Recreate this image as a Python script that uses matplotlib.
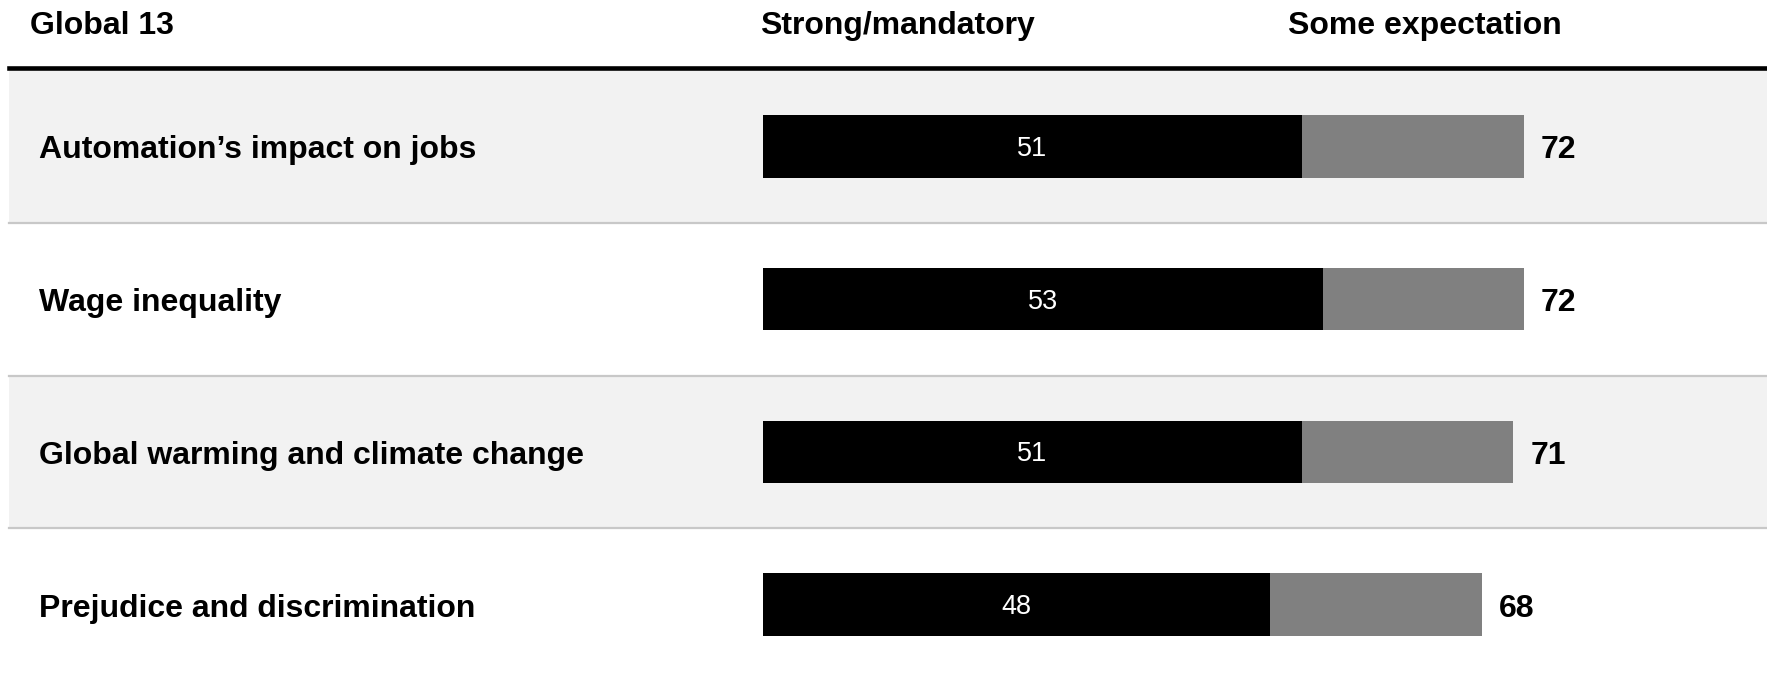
import matplotlib
matplotlib.use("Agg")
import matplotlib.pyplot as plt
from matplotlib.lines import Line2D

plt.rcParams['font.family'] = ['Liberation Sans', 'DejaVu Sans']

# ---- data ----
title = "Global 13"
series_names = ["Strong/mandatory", "Some expectation"]
categories = ["Automation\u2019s impact on jobs", "Wage inequality",
              "Global warming and climate change", "Prejudice and discrimination"]
strong = [51, 53, 51, 48]
total = [72, 72, 71, 68]

# ---- layout ----
W, H = 1767, 681
dpi = 100
fig = plt.figure(figsize=(W / dpi, H / dpi), dpi=dpi)
fig.patch.set_facecolor("white")

top_px = 70
ax = fig.add_axes([0, 0, 1, (H - top_px) / H])
x0_px, ppu = 763, 10.57
ax.set_xlim(-x0_px / ppu, (W - x0_px) / ppu)
n = len(categories)
ax.set_ylim(n - 0.5, -0.5)
ax.axis("off")
row_px = (H - top_px) / n

left_frac = 9 / W
band = "#f2f2f2"
sep = "#c8c8c8"
for i in range(n):
    if i % 2 == 0:
        ax.axhspan(i - 0.5, i + 0.5, xmin=left_frac, xmax=1, color=band, lw=0, zorder=0)
    if i < n - 1:
        ax.axhline(i + 0.5, xmin=left_frac, xmax=1, color=sep, lw=1.6, zorder=1)

ypos = list(range(n))
some = [t - s for t, s in zip(total, strong)]
bh = 0.41
ax.barh(ypos, strong, height=bh, color="#000000", zorder=2)
ax.barh(ypos, some, left=strong, height=bh, color="#808080", zorder=2)

for i in range(n):
    ax.text(strong[i] / 2, i + 9.5 / row_px, str(strong[i]), color="white", fontsize=19.5,
            ha="center", va="baseline", zorder=3)
    ax.text(total[i] + 17 / ppu, i + 12 / row_px, str(total[i]), color="black", fontsize=23,
            fontweight="bold", ha="left", va="baseline", zorder=3)
    ax.text(39 / W, i + 12 / row_px, categories[i], transform=ax.get_yaxis_transform(),
            fontsize=23, fontweight="bold", ha="left", va="baseline", zorder=3)

# header
hy = 1 - 34 / H
fig.text(30 / W, hy, title, fontsize=23, fontweight="bold", ha="left", va="baseline")
fig.text(760 / W, hy, series_names[0], fontsize=23, fontweight="bold", ha="left", va="baseline")
fig.text(1288 / W, hy, series_names[1], fontsize=23, fontweight="bold", ha="left", va="baseline")
fig.add_artist(Line2D([9 / W, 1], [1 - 68 / H, 1 - 68 / H], color="black", lw=3.3,
                      transform=fig.transFigure))

fig.savefig("out.png", dpi=dpi)
